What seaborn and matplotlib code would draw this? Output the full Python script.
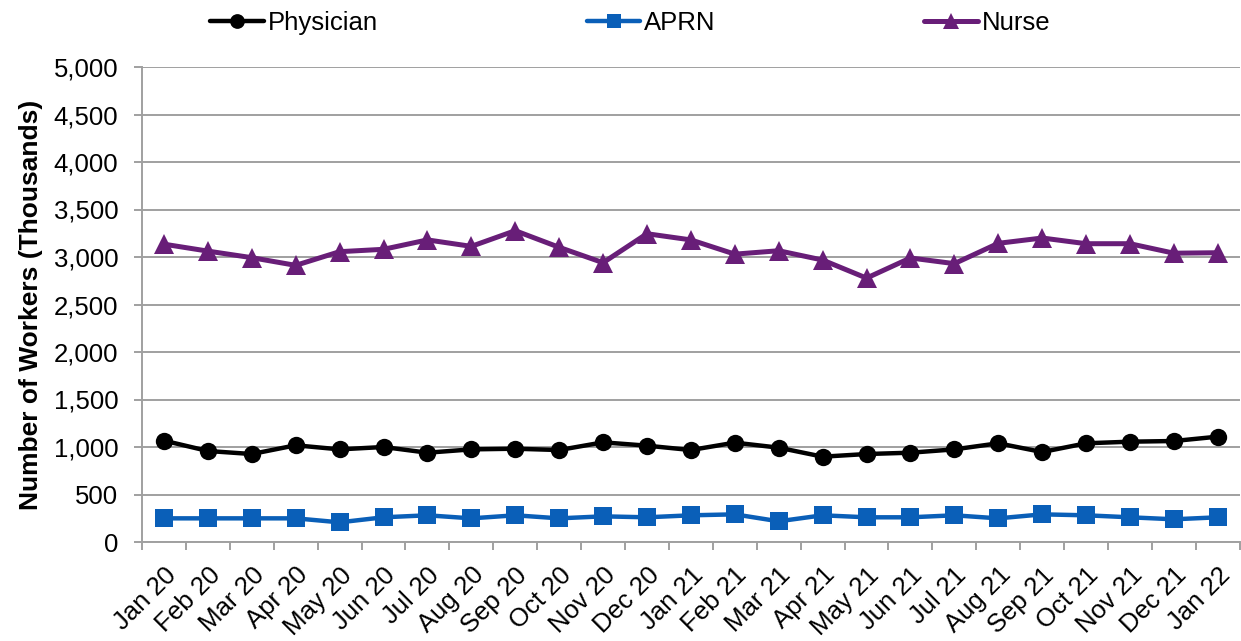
import matplotlib
matplotlib.use("Agg")
import matplotlib.pyplot as plt
import seaborn as sns
import pandas as pd
from matplotlib.ticker import FuncFormatter, FixedLocator

months = ["Jan 20", "Feb 20", "Mar 20", "Apr 20", "May 20", "Jun 20", "Jul 20",
          "Aug 20", "Sep 20", "Oct 20", "Nov 20", "Dec 20", "Jan 21", "Feb 21",
          "Mar 21", "Apr 21", "May 21", "Jun 21", "Jul 21", "Aug 21", "Sep 21",
          "Oct 21", "Nov 21", "Dec 21", "Jan 22"]

physician = [1067, 958, 926, 1018, 975, 1000, 940, 975, 982, 968, 1049, 1014,
             968, 1046, 993, 898, 926, 940, 975, 1039, 947, 1039, 1056, 1063, 1109]
aprn = [249, 249, 249, 249, 207, 260, 281, 249, 281, 249, 270, 260,
        281, 291, 218, 281, 260, 260, 281, 249, 291, 281, 260, 239, 260]
nurse = [3135, 3062, 2993, 2912, 3056, 3081, 3180, 3112, 3277, 3102, 2940, 3245,
         3180, 3030, 3066, 2968, 2778, 2990, 2930, 3144, 3200, 3140, 3140, 3040, 3045]

series_names = ["Physician", "APRN", "Nurse"]

sns.set_theme(style="white")
plt.rcParams["font.family"] = ["Liberation Sans", "DejaVu Sans"]
plt.rcParams["text.color"] = "black"
plt.rcParams["axes.labelcolor"] = "black"
plt.rcParams["xtick.color"] = "black"
plt.rcParams["ytick.color"] = "black"

fig = plt.figure(figsize=(12.41, 6.41), dpi=100)
ax = fig.add_axes([142 / 1241, 1 - 542 / 641, 1 - 142 / 1241 - 0.001, (542 - 67) / 641])

styles = {
    "Physician": dict(color="#000000", marker="o", markersize=12.5, linewidth=3.2),
    "APRN": dict(color="#0A5FB8", marker="s", markersize=12.5, linewidth=3.2),
    "Nurse": dict(color="#681E78", marker="^", markersize=14, linewidth=3.6),
}

for name, vals in zip(series_names, [physician, aprn, nurse]):
    df = pd.DataFrame({"Month": months, "Workers": vals})
    st = styles[name]
    sns.lineplot(data=df, x="Month", y="Workers", ax=ax, sort=False,
                 color=st["color"], marker=st["marker"], markersize=st["markersize"],
                 linewidth=st["linewidth"], markeredgewidth=0, label=name)

ax.set_ylim(0, 5000)
ax.set_xlim(-0.5, len(months) - 0.5)
ax.set_yticks(range(0, 5001, 500))
ax.yaxis.set_major_formatter(FuncFormatter(lambda v, p: f"{int(v):,}"))
ax.grid(axis="y", color="#A0A0A0", linewidth=1.4)
ax.grid(axis="x", visible=False)

ax.set_xticks(range(len(months)))
ax.set_xticklabels(months, rotation=45, ha="right", rotation_mode="anchor", fontsize=18.5)
ax.xaxis.set_minor_locator(FixedLocator([i - 0.5 for i in range(len(months) + 1)]))
ax.tick_params(axis="x", which="major", length=0, pad=15, colors="black")
ax.tick_params(axis="x", which="minor", length=6, width=1.4, color="#A0A0A0", bottom=True)
ax.tick_params(axis="y", which="major", length=6, width=1.4, color="#A0A0A0", left=True,
               labelsize=18.5, pad=11, labelcolor="black")

for s in ["top", "right"]:
    ax.spines[s].set_visible(False)
for s in ["left", "bottom"]:
    ax.spines[s].set_color("#A0A0A0")
    ax.spines[s].set_linewidth(1.4)

ax.set_xlabel("")
ax.set_ylabel("Number of Workers (Thousands)", fontsize=19, fontweight="bold",
              labelpad=8, color="black")

handles, labels = ax.get_legend_handles_labels()
ax.legend_.remove()
fig.legend(handles, labels, loc="center", bbox_to_anchor=(0.508, 1 - 23 / 641), ncol=3,
           frameon=False, fontsize=18.5, columnspacing=8.1, handlelength=2.1,
           handletextpad=0.15, markerscale=0.85)

fig.savefig("out.png", dpi=100)
